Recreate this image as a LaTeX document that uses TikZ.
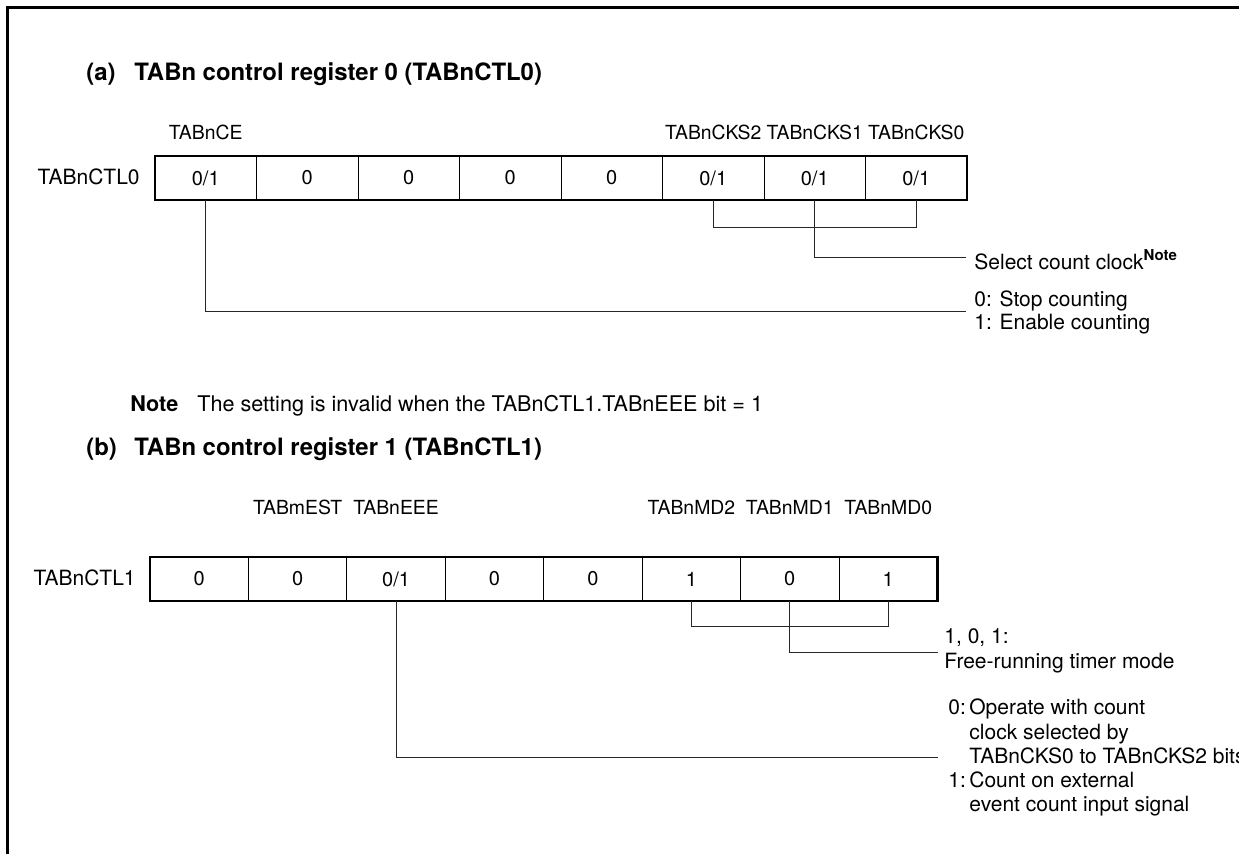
\documentclass[tikz,border=0pt]{standalone}
\usepackage{fontspec}
\setmainfont{TeX Gyre Heros}
\begin{document}
\begin{tikzpicture}[x=0.5pt,y=-0.5pt,
  txt/.style={inner sep=0pt,font=\fontsize{10.5}{12}\selectfont},
  lbl/.style={inner sep=0pt,anchor=base,font=\fontsize{9.7}{11.6}\selectfont},
  ttl/.style={inner sep=0pt,anchor=base west,font=\fontsize{11.95}{14}\selectfont\bfseries},
  cellA/.style={draw,line width=0.5pt,minimum width=50.75pt,minimum height=22pt,inner sep=0pt,outer sep=0pt,font=\fontsize{10}{12}\selectfont},
  cellB/.style={draw,line width=0.5pt,minimum width=49.22pt,minimum height=22pt,inner sep=0pt,outer sep=0pt,font=\fontsize{10}{12}\selectfont},
  regframe/.style={line width=1.25pt},
  conn/.style={line width=0.5pt,draw=black!85},
  frame/.style={line width=1.5pt}]
\useasboundingbox (0,0) rectangle (1239,854);
\draw[frame] (7,854) -- (7,8) -- (1239,8);

% ---------- (a)
\node[ttl] (ta1) at (86,81) {(a)};
\node[ttl] (ta2) at (134,81) {TABn control register 0 (TABnCTL0)};

\node[cellA] (a7) at (205.75,178) {0/1};
\node[cellA] (a6) at (307.25,178) {0};
\node[cellA] (a5) at (408.75,178) {0};
\node[cellA] (a4) at (510.25,178) {0};
\node[cellA] (a3) at (611.75,178) {0};
\node[cellA] (a2) at (713.25,178) {0/1};
\node[cellA] (a1) at (814.75,178) {0/1};
\node[cellA] (a0) at (916.25,178) {0/1};
\draw[regframe] (a7.north west) rectangle (a0.south east);
\node[txt,anchor=base east] (rega) at (140,185) {TABnCTL0};

\node[lbl] (la7) at (205.75,140) {TABnCE};
\node[lbl] (la2) at (713.25,140) {TABnCKS2};
\node[lbl] (la1) at (814.75,140) {TABnCKS1};
\node[lbl] (la0) at (916.25,140) {TABnCKS0};

\draw[conn] (a2.south) -- ++(0,28) -| (a0.south);
\coordinate (ca1) at (966,258);
\draw[conn] (a1.south) |- (ca1);
\node[txt,anchor=west] (sel) at (974,260) {Select count clock\raisebox{0.85ex}{\fontsize{7.5}{8}\selectfont\bfseries Note}};

\coordinate (ca7) at (966,312);
\draw[conn] (a7.south) |- (ca7);
\node[txt,anchor=west,align=left,font=\fontsize{10.5}{11.5}\selectfont] (ce) at (974,312.5) {0: Stop counting\\1: Enable counting};

% ---------- Note
\node[ttl,font=\fontsize{10.8}{12}\selectfont\bfseries] (nt) at (130,412) {Note};
\node[txt,anchor=base west,font=\fontsize{10.8}{12}\selectfont] (ntx) at (197,412) {The setting is invalid when the TABnCTL1.TABnEEE bit = 1};

% ---------- (b)
\node[ttl] (tb1) at (86,456) {(b)};
\node[ttl] (tb2) at (134,456) {TABn control register 1 (TABnCTL1)};

\node[cellB] (b7) at (199.2,579) {0};
\node[cellB] (b6) at (297.7,579) {0};
\node[cellB] (b5) at (396.1,579) {0/1};
\node[cellB] (b4) at (494.5,579) {0};
\node[cellB] (b3) at (593.0,579) {0};
\node[cellB] (b2) at (691.4,579) {1};
\node[cellB] (b1) at (789.8,579) {0};
\node[cellB] (b0) at (888.3,579) {1};
\draw[regframe] (b7.north west) rectangle (b0.south east);
\node[txt,anchor=base east] (regb) at (136,586) {TABnCTL1};

\node[lbl] (lb6) at (297.7,515) {TABmEST};
\node[lbl] (lb5) at (396.1,515) {TABnEEE};
\node[lbl] (lb2) at (691.4,515) {TABnMD2};
\node[lbl] (lb1) at (789.8,515) {TABnMD1};
\node[lbl] (lb0) at (888.3,515) {TABnMD0};

\draw[conn] (b2.south) -- ++(0,26) -| (b0.south);
\coordinate (cb1) at (938,653);
\draw[conn] (b1.south) |- (cb1);
\node[txt,anchor=west,align=left,font=\fontsize{10.5}{12.5}\selectfont] (fr) at (944,650.5) {1, 0, 1:\\Free-running timer mode};

\coordinate (cb5) at (938,758);
\draw[conn] (b5.south) |- (cb5);
\node[txt,anchor=west] (eee) at (948,758.5) {\fontsize{10.5}{12.15}\selectfont
  \begin{tabular}{@{}l@{\,}l@{}}
  0: & Operate with count\\
     & clock selected by\\
     & TABnCKS0 to TABnCKS2 bits\\
  1: & Count on external\\
     & event count input signal
  \end{tabular}};
\end{tikzpicture}
\end{document}
